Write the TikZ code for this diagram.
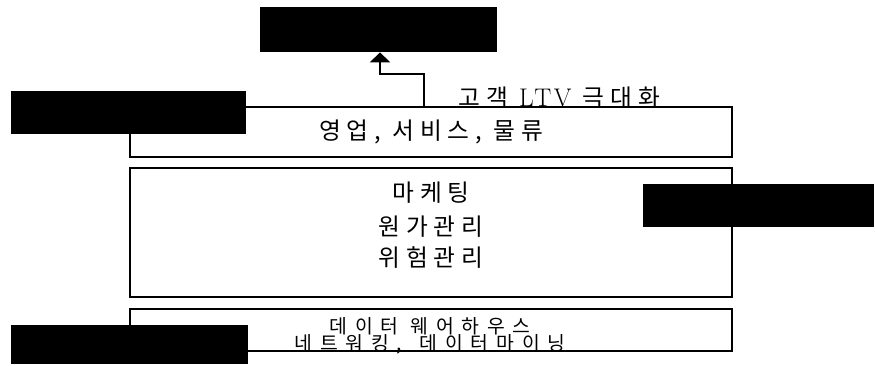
\documentclass[tikz,border=0pt]{standalone}
\usepackage{fontspec}
\newfontfamily\kr{Noto Sans CJK KR}[LetterSpace=25]
\newfontfamily\krw{Noto Sans CJK KR}[LetterSpace=40]
\newfontfamily\lt{Latin Modern Roman}[LetterSpace=10]
\usepackage{tikz}
\usetikzlibrary{arrows.meta}

\begin{document}
\begin{tikzpicture}[x=0.02cm, y=-0.02cm,
        layer/.style={draw, line width=1.1pt, minimum width=12.04cm, inner sep=0pt, font=\kr\fontsize{13.5pt}{15pt}\selectfont},
        blk/.style={fill=black, inner sep=0pt, minimum height=0.86cm},
        txt/.style={inner sep=0pt, font=\kr\fontsize{13.5pt}{15pt}\selectfont}]
        \fill[white] (0,0) rectangle (875,365);
        \useasboundingbox (0,0) rectangle (875,365);
        \node[layer, minimum height=1cm] (sales) at (431,132) {영업, 서비스, 물류};
        \node[layer, minimum height=2.58cm] (mgmt) at (431,232.5) {};
        \node[layer, minimum height=0.84cm] (infra) at (431,330) {};
        \node[txt] (mkt) at (431,193) {마케팅};
        \node[txt] (cost) at (431,227) {원가관리};
        \node[txt] (risk) at (431,258) {위험관리};
        \node[txt, align=center, font=\krw\fontsize{11pt}{10pt}\selectfont] (dw) at (430,336) {데이터 웨어하우스\\네트워킹,\hspace{0.3em} 데이터마이닝};
        \node[blk, minimum width=4.74cm, minimum height=0.9cm] (goal) at (378.5,29.5) {};
        \node[blk, minimum width=4.7cm] (tagA) at (128.5,112.5) {};
        \node[blk, minimum width=4.62cm] (tagB) at (758.5,205.5) {};
        \node[blk, minimum width=4.74cm, minimum height=0.78cm] (tagC) at (129.5,344.5) {};
        \node[txt, anchor=west] (ltv) at (458,98) {고객 {\lt\fontsize{14.5pt}{15pt}\selectfont LTV} 극대화};
        \coordinate (rise) at (424,107);
        \draw[line width=1.1pt, -{Triangle[width=0.4cm,length=0.2cm]}] (rise) -- (424,74) -- (380,74) -- (goal.south -| 380,0);
    \end{tikzpicture}
\end{document}
